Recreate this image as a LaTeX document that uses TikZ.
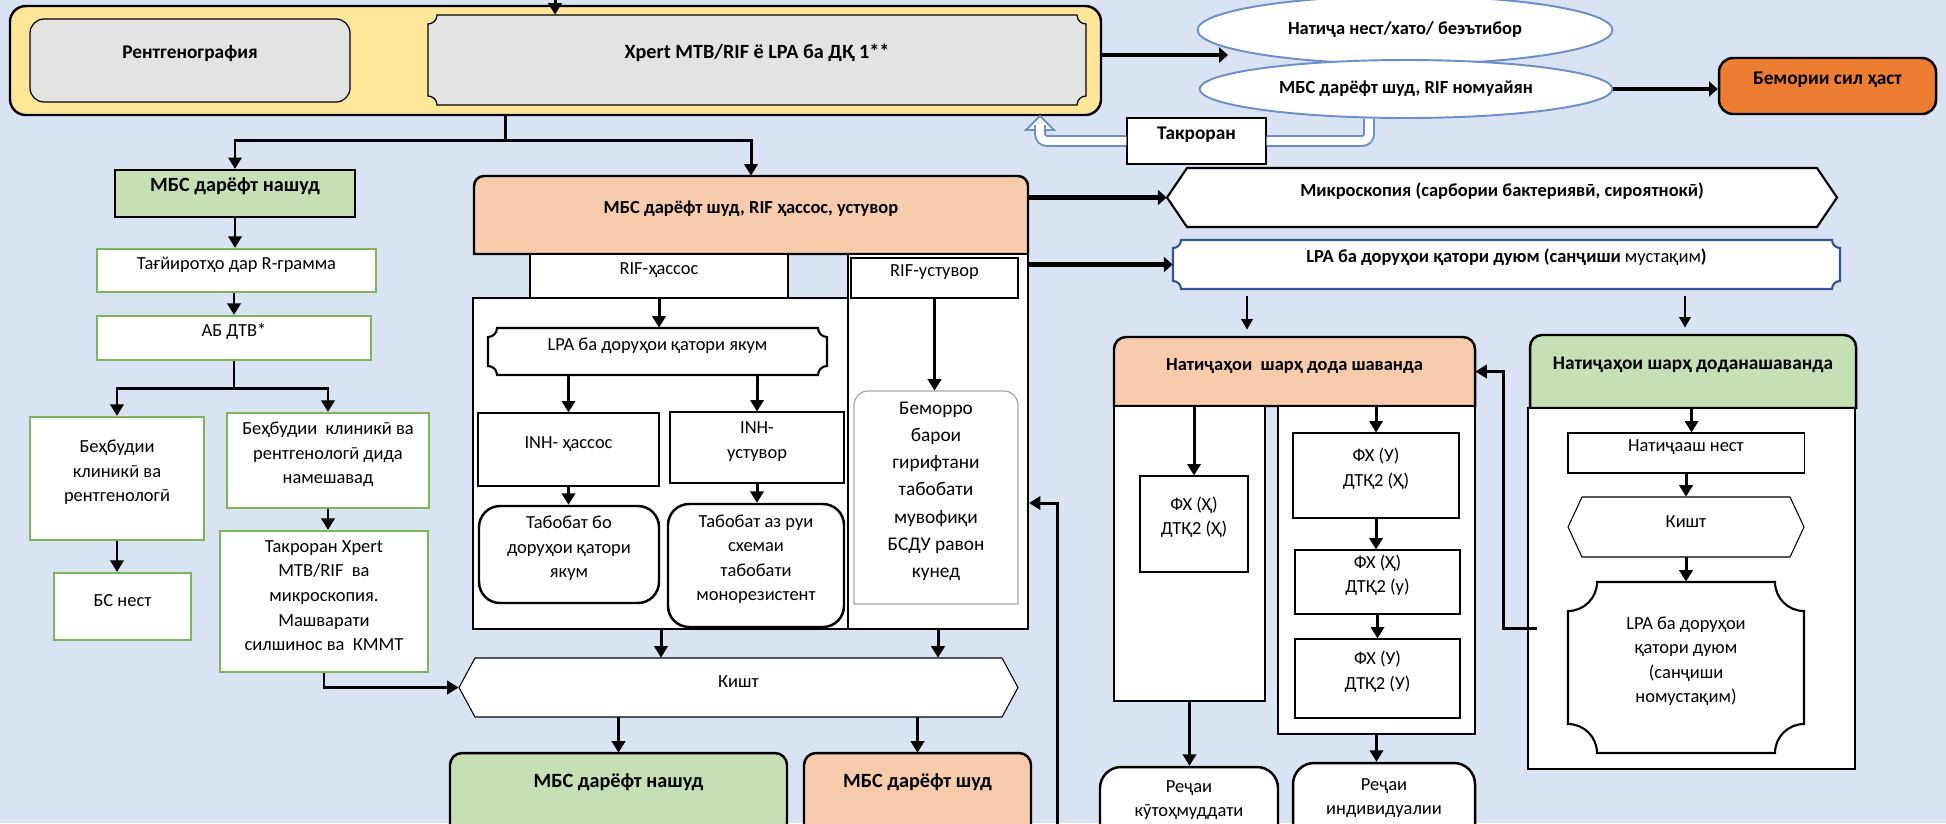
\documentclass[tikz,border=0pt]{standalone}
\usepackage{fontspec}
\setmainfont{Carlito}
\usetikzlibrary{arrows.meta,fit,shapes.geometric,calc}

\definecolor{bgblue}{HTML}{DAE3F3}
\definecolor{ylw}{HTML}{FFE699}
\definecolor{gry}{HTML}{E3E3E3}
\definecolor{salmon}{HTML}{F8CBAD}
\definecolor{lgreen}{HTML}{C5E0B4}
\definecolor{orng}{HTML}{ED7D31}
\definecolor{elblue}{HTML}{6A8FCB}
\definecolor{dblue}{HTML}{2F5597}
\definecolor{gline}{HTML}{7DB65A}

\newcommand{\plaquebox}[6][]{\draw[#1] ({#2+#6},#3) -- ({#4-#6},#3) arc[start angle=180,end angle=270,radius=#6] -- (#4,{#5+#6}) arc[start angle=90,end angle=180,radius=#6] -- ({#2+#6},#5) arc[start angle=0,end angle=90,radius=#6] -- (#2,{#3-#6}) arc[start angle=270,end angle=360,radius=#6] -- cycle;}
\newcommand{\hexbox}[6][]{\draw[#1] (#2,{(#3)/2+(#5)/2}) -- ({#2+#6},#3) -- ({#4-#6},#3) -- (#4,{(#3)/2+(#5)/2}) -- ({#4-#6},#5) -- ({#2+#6},#5) -- cycle;}
\newcommand{\hdrbox}[6][]{\draw[#1] (#2,#5) -- (#2,{#3-#6}) arc[start angle=180,end angle=90,radius=#6] -- ({#4-#6},#3) arc[start angle=90,end angle=0,radius=#6] -- (#4,#5) -- cycle;}

\tikzset{
  every node/.style={font=\fontsize{10.5}{14}\selectfont},
  bx/.style={inner sep=0pt, align=center},
  thinbox/.style={bx, draw, fill=white, line width=0.6pt},
  grnbox/.style={bx, draw=gline, fill=white, line width=1.3pt},
  cont/.style={bx, draw, fill=white, line width=1.1pt},
  rbox/.style={bx, draw, fill=white, line width=1.4pt, rounded corners=12pt},
  hdr/.style={font=\bfseries\fontsize{11}{14}\selectfont},
  hdrs/.style={font=\bfseries\fontsize{10.5}{13}\selectfont},
  lift/.style={text depth=#1},
  arr/.style={line width=1.7pt, -{Triangle[length=6.5pt,width=7.5pt]}},
  farr/.style={line width=1.2pt, -{Triangle[length=6pt,width=6.5pt]}, shorten <=4pt, shorten >=4pt},
  barr/.style={line width=2.8pt, -{Triangle[length=5pt,width=8.5pt]}},
  dbl/.style={draw=elblue, line width=1.1pt, double=white, double distance=4.5pt, rounded corners=4pt},
}

\begin{document}
\begin{tikzpicture}[x=0.02cm, y=0.02cm]
\useasboundingbox (0,0) rectangle (1946,-823);
\fill[bgblue] (0,0) rectangle (1946,-823);

\node[bx, draw, fill=ylw, line width=1.4pt, rounded corners=9pt, fit={(10,-6)(1101,-115)}] (scr) {};
\node[bx, draw, fill=gry, line width=0.7pt, rounded corners=8pt, hdr, lift=12pt, fit={(30,-19)(350,-102)}] (rentgen) {Рентгенография};
\plaquebox[fill=gry, line width=0.7pt]{428}{-15}{1086}{-105}{9}
\node[bx, lift=12pt, fit={(428,-15)(1086,-105)}, font=\bfseries\fontsize{11.5}{14}\selectfont] (xpert) {Xpert MTB/RIF ё LPA ба ДҚ 1**};
\coordinate (top) at (555,0);
\draw[arr] (top) -- (top |- xpert.north);

\node[ellipse, draw=elblue, fill=white, line width=1.1pt, minimum width=8.3cm, minimum height=1.36cm, inner sep=0pt, hdrs] (res1) at (1405,-30) {Натиҷа нест/хато/ беэътибор};
\node[ellipse, draw=elblue, fill=white, line width=1.1pt, minimum width=8.26cm, minimum height=1.16cm, inner sep=0pt, hdrs] (res2) at (1406,-89) {МБС дарёфт шуд, RIF номуайян};
\coordinate (resin) at (1228,-55);
\draw[barr] (scr.east |- resin) -- (resin);
\node[bx, draw, fill=orng, line width=1.4pt, rounded corners=8pt, hdr, fit={(1719,-58)(1936,-114)}] (sick) {Бемории сил ҳаст};
\draw[barr] (res2.east) -- (res2.east -| sick.west);

\node[thinbox, hdr, fit={(1127,-118)(1266,-164)}] (takr) {Такроран};
\coordinate (rep1) at (1369,-141);
\coordinate (rep2) at (1040,-125);
\draw[dbl] (res2.south -| rep1) |- (takr.east);
\draw[draw=elblue, fill=white, line width=1.1pt] (1026,-130) -- (1040,-116) -- (1054,-130) -- cycle;
\draw[dbl] (takr.west) -| (rep2);

\node[bx, draw, fill=lgreen, line width=1.2pt, fit={(115,-170)(355,-217)}, font=\bfseries\fontsize{11.5}{14}\selectfont] (neg1) {МБС дарёфт нашуд};
\node[grnbox, fit={(97,-249)(376,-292)}] (rgram) {Тағйиротҳо дар R-грамма};
\node[grnbox, fit={(97,-316)(371,-360)}] (abdtv) {АБ ДТВ*};
\node[grnbox, lift=18pt, fit={(30,-417)(204,-540)}] (imp1) {Беҳбудии\\клиникӣ ва\\рентгенологӣ};
\node[grnbox, fit={(227,-413)(429,-508)}] (imp2) {Беҳбудии\ \ клиникӣ ва\\рентгенологӣ дида\\намешавад};
\node[grnbox, lift=14pt, fit={(54,-573)(191,-640)}] (nobs) {БС нест};
\node[grnbox, fit={(220,-531)(428,-672)}] (rexp) {Такроран Xpert\\MTB/RIF\ \ ва\\микроскопия.\\Машварати\\силшинос ва\ \ КММТ};

\hdrbox[fill=salmon, line width=1.4pt]{474}{-176}{1028}{-254}{10}
\node[bx, hdrs, lift=13pt, fit={(474,-176)(1028,-254)}] (rifhdr) {МБС дарёфт шуд, RIF ҳассос, устувор};
\node[cont, fit={(473,-298)(849,-629)}] (sensbox) {};
\node[cont, fit={(848,-254)(1028,-629)}] (resbox) {};
\node[thinbox, fit={(530,-254)(788,-298)}] (rifs) {RIF-ҳассос};
\node[thinbox, fit={(851,-258)(1018,-298)}] (rifr) {RIF-устувор};
\plaquebox[fill=white, line width=1.2pt]{488}{-328}{827}{-375}{9}
\node[bx, fit={(488,-328)(827,-375)}] (lpa1) {LPA ба доруҳои қатори якум};
\node[thinbox, lift=16pt, fit={(478,-413)(659,-486)}] (inhs) {INH- ҳассос};
\node[thinbox, fit={(670,-412)(844,-483)}] (inhr) {INH-\\устувор};
\node[rbox, fit={(479,-506)(659,-603)}] (tr1) {Табобат бо\\доруҳои қатори\\якум};
\node[rbox, fit={(668,-504)(844,-627)}] (tr2) {Табобат аз руи\\схемаи\\табобати\\монорезистент};
\hdrbox[draw=gray!70, fill=white, line width=0.7pt]{854}{-391}{1018}{-604}{14}
\node[bx, font=\fontsize{11}{15.5}\selectfont, fit={(854,-391)(1018,-604)}] (refer) {Беморро\\барои\\гирифтани\\табобати\\мувофиқи\\БСДУ равон\\кунед};
\hexbox[fill=white, line width=0.6pt]{459}{-658}{1018}{-717}{16}
\node[bx, fit={(459,-658)(1018,-717)}] (kisht) {Кишт};
\hdrbox[fill=lgreen, line width=1.4pt]{450}{-753}{787}{-870}{12}
\node[bx, fit={(450,-753)(787,-825)}, font=\bfseries\fontsize{11.5}{14}\selectfont] (neg2) {МБС дарёфт нашуд};
\hdrbox[fill=salmon, line width=1.4pt]{804}{-753}{1031}{-870}{12}
\node[bx, fit={(804,-753)(1031,-825)}, font=\bfseries\fontsize{11.5}{14}\selectfont] (pos2) {МБС дарёфт шуд};

\coordinate (split1) at (505,-140);
\draw[line width=1.7pt] (scr.south -| split1) -- (split1);
\draw[arr] (split1) -| (neg1.north);
\draw[arr] (split1) -| (rifhdr.north);
\draw[arr] (neg1.south) -- (neg1.south |- rgram.north);
\draw[arr] (rgram.south -| abdtv.north) -- (abdtv.north);
\coordinate (split2) at (234,-388);
\draw[line width=1.7pt] (abdtv.south) -- (split2);
\draw[arr] (split2) -| (imp1.north);
\draw[arr] (split2) -| (imp2.north);
\draw[arr] (imp1.south) -- (imp1.south |- nobs.north);
\draw[arr] (imp2.south) -- (imp2.south |- rexp.north);
\draw[arr] (rexp.south) |- (kisht.west);

\draw[arr] (rifs.south) -- (rifs.south |- lpa1.north);
\draw[arr] (inhs.north |- lpa1.south) -- (inhs.north);
\draw[arr] (inhr.north |- lpa1.south) -- (inhr.north);
\draw[arr] (inhs.south) -- (inhs.south |- tr1.north);
\draw[arr] (inhr.south) -- (inhr.south |- tr2.north);
\draw[arr] (rifr.south) -- (rifr.south |- refer.north);
\draw[arr] (sensbox.south) -- (sensbox.south |- kisht.north);
\draw[arr] (resbox.south) -- (resbox.south |- kisht.north);
\draw[arr] (neg2.north |- kisht.south) -- (neg2.north);
\draw[arr] (pos2.north |- kisht.south) -- (pos2.north);
\coordinate (back) at (1057,-830);
\coordinate (backy) at (0,-503);
\draw[arr] (back) |- (resbox.east |- backy);

\hexbox[fill=white, line width=1.2pt]{1167}{-168}{1837}{-227}{20}
\node[bx, hdrs, fit={(1167,-168)(1837,-227)}] (mic) {Микроскопия (сарбории бактериявӣ, сироятнокӣ)};
\plaquebox[draw=dblue, fill=white, line width=1.2pt]{1173}{-240}{1840}{-289}{8}
\node[bx, hdrs, fit={(1173,-240)(1840,-289)}] (lpa2) {LPA ба доруҳои қатори дуюм (санҷиши {\mdseries мустақим})};
\draw[barr] (rifhdr.east |- mic.west) -- (mic.west);
\draw[barr] (resbox.east |- lpa2.west) -- (lpa2.west);

\hdrbox[fill=salmon, line width=1.4pt]{1114}{-337}{1475}{-406}{12}
\node[bx, hdrs, lift=12pt, fit={(1114,-337)(1475,-406)}] (nat1) {Натиҷаҳои\ \ шарҳ дода шаванда};
\node[cont, fit={(1114,-406)(1265,-701)}] (nat1l) {};
\node[cont, fit={(1278,-406)(1475,-734)}] (nat1r) {};
\node[thinbox, lift=19pt, fit={(1140,-476)(1248,-572)}] (fa) {ФХ (Ҳ)\\ДТҚ2 (Ҳ)};
\node[thinbox, lift=10pt, fit={(1293,-433)(1459,-518)}] (fb) {ФХ (У)\\ДТҚ2 (Ҳ)};
\node[thinbox, fit={(1295,-550)(1460,-614)}] (fc) {ФХ (Ҳ)\\ДТҚ2 (у)};
\node[thinbox, fit={(1295,-639)(1460,-718)}] (fd) {ФХ (У)\\ДТҚ2 (У)};
\node[rbox, fit={(1100,-767)(1278,-845)}] (reg1) {Реҷаи\\кӯтоҳмуддати};
\node[rbox, fit={(1293,-763)(1475,-845)}] (reg2) {Реҷаи\\индивидуалии};
\coordinate (d1) at (1247,0);
\draw[farr] (lpa2.south -| d1) -- (nat1.north -| d1);
\draw[arr] (fa.north |- nat1l.north) -- (fa.north);
\draw[arr] (fb.north |- nat1r.north) -- (fb.north);
\draw[arr] (fb.south) -- (fb.south |- fc.north);
\draw[arr] (fc.south) -- (fc.south |- fd.north);
\draw[arr] (nat1l.south) -- (nat1l.south |- reg1.north);
\draw[arr] (nat1r.south) -- (nat1r.south |- reg2.north);

\hdrbox[fill=lgreen, line width=1.4pt]{1530}{-335}{1856}{-408}{12}
\node[bx, hdr, lift=12pt, fit={(1530,-335)(1856,-408)}] (nat2) {Натиҷаҳои шарҳ доданашаванда};
\node[cont, fit={(1528,-408)(1855,-769)}] (nat2c) {};
\node[thinbox, fit={(1568,-433)(1804,-473)}] (nores) {Натиҷааш нест};
\hexbox[fill=white, line width=0.6pt]{1568}{-497}{1804}{-557}{14}
\node[bx, fit={(1568,-497)(1804,-557)}] (kisht2) {Кишт};
\plaquebox[fill=white, line width=1.2pt]{1568}{-582}{1804}{-753}{29}
\node[bx, fit={(1568,-582)(1804,-753)}] (lpa3) {LPA ба доруҳои\\қатори дуюм\\(санҷиши\\номустақим)};
\coordinate (d2) at (1685,0);
\draw[farr] (lpa2.south -| d2) -- (nat2.north -| d2);
\draw[arr] (nat2c.north) -- (nat2c.north |- nores.north);
\draw[arr] (nores.south) -- (nores.south |- kisht2.north);
\draw[arr] (kisht2.south) -- (kisht2.south |- lpa3.north);
\coordinate (fb1) at (1537,-628);
\coordinate (fb2) at (1503,-628);
\draw[arr] (fb1) -- (fb2) |- (nat1.east);
\end{tikzpicture}
\end{document}
